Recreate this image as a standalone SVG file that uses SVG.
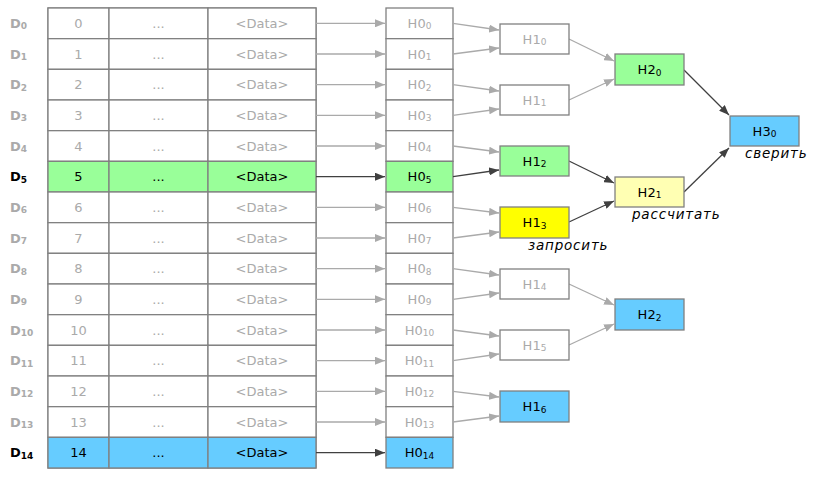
<svg xmlns="http://www.w3.org/2000/svg" width="819" height="478" viewBox="0 0 819 478">
<defs>
<marker id="ag" markerWidth="10" markerHeight="8" refX="10" refY="4" orient="auto" markerUnits="userSpaceOnUse"><path d="M0,0 L10,4 L0,8 z" fill="#aaa"/></marker>
<marker id="ad" markerWidth="10" markerHeight="8" refX="10" refY="4" orient="auto" markerUnits="userSpaceOnUse"><path d="M0,0 L10,4 L0,8 z" fill="#404040"/></marker>
</defs>
<style>
text{font-family:"DejaVu Sans",sans-serif;font-size:13px;text-anchor:middle;dominant-baseline:central}
.c{fill:#fff;stroke:#808080;stroke-width:1.3}
.g{fill:#aaa}.k{fill:#000}
.lab{font-weight:bold;text-anchor:start}
.gl{stroke:#aaa;stroke-width:1.3;fill:none;marker-end:url(#ag)}
.dl{stroke:#404040;stroke-width:1.3;fill:none;marker-end:url(#ad)}
.it{font-style:italic;text-anchor:start;font-size:13.5px;letter-spacing:0.8px}
tspan.s{font-size:9px}
</style>
<g id="table">
<rect class="c" x="48" y="8" width="268" height="460"/>
</g>
<g id="r0"><rect class="c" x="48" y="8" width="61" height="30.67"/><rect class="c" x="109" y="8" width="99" height="30.67"/><rect class="c" x="208" y="8" width="108" height="30.67"/><text class="g" x="78.5" y="23.3">0</text><text class="g" x="158.5" y="23.3">...</text><text class="g" x="262" y="23.3">&lt;Data&gt;</text><text class="g lab" x="10" y="23.3">D<tspan class="s" dy="3">0</tspan></text><rect class="c" x="386" y="8" width="67" height="30.67"/><text class="g" x="419.5" y="23.3">H0<tspan class="s" dy="3">0</tspan></text></g>
<g id="r1"><rect class="c" x="48" y="38.67" width="61" height="30.67"/><rect class="c" x="109" y="38.67" width="99" height="30.67"/><rect class="c" x="208" y="38.67" width="108" height="30.67"/><text class="g" x="78.5" y="54">1</text><text class="g" x="158.5" y="54">...</text><text class="g" x="262" y="54">&lt;Data&gt;</text><text class="g lab" x="10" y="54">D<tspan class="s" dy="3">1</tspan></text><rect class="c" x="386" y="38.67" width="67" height="30.67"/><text class="g" x="419.5" y="54">H0<tspan class="s" dy="3">1</tspan></text></g>
<g id="r2"><rect class="c" x="48" y="69.33" width="61" height="30.67"/><rect class="c" x="109" y="69.33" width="99" height="30.67"/><rect class="c" x="208" y="69.33" width="108" height="30.67"/><text class="g" x="78.5" y="84.7">2</text><text class="g" x="158.5" y="84.7">...</text><text class="g" x="262" y="84.7">&lt;Data&gt;</text><text class="g lab" x="10" y="84.7">D<tspan class="s" dy="3">2</tspan></text><rect class="c" x="386" y="69.33" width="67" height="30.67"/><text class="g" x="419.5" y="84.7">H0<tspan class="s" dy="3">2</tspan></text></g>
<g id="r3"><rect class="c" x="48" y="100" width="61" height="30.67"/><rect class="c" x="109" y="100" width="99" height="30.67"/><rect class="c" x="208" y="100" width="108" height="30.67"/><text class="g" x="78.5" y="115.3">3</text><text class="g" x="158.5" y="115.3">...</text><text class="g" x="262" y="115.3">&lt;Data&gt;</text><text class="g lab" x="10" y="115.3">D<tspan class="s" dy="3">3</tspan></text><rect class="c" x="386" y="100" width="67" height="30.67"/><text class="g" x="419.5" y="115.3">H0<tspan class="s" dy="3">3</tspan></text></g>
<g id="r4"><rect class="c" x="48" y="130.67" width="61" height="30.67"/><rect class="c" x="109" y="130.67" width="99" height="30.67"/><rect class="c" x="208" y="130.67" width="108" height="30.67"/><text class="g" x="78.5" y="146">4</text><text class="g" x="158.5" y="146">...</text><text class="g" x="262" y="146">&lt;Data&gt;</text><text class="g lab" x="10" y="146">D<tspan class="s" dy="3">4</tspan></text><rect class="c" x="386" y="130.67" width="67" height="30.67"/><text class="g" x="419.5" y="146">H0<tspan class="s" dy="3">4</tspan></text></g>
<g id="r5"><rect class="c" style="fill:#99ff99" x="48" y="161.33" width="61" height="30.67"/><rect class="c" style="fill:#99ff99" x="109" y="161.33" width="99" height="30.67"/><rect class="c" style="fill:#99ff99" x="208" y="161.33" width="108" height="30.67"/><text class="k" x="78.5" y="176.7">5</text><text class="k" x="158.5" y="176.7">...</text><text class="k" x="262" y="176.7">&lt;Data&gt;</text><text class="k lab" x="10" y="176.7">D<tspan class="s" dy="3">5</tspan></text><rect class="c" style="fill:#99ff99" x="386" y="161.33" width="67" height="30.67"/><text class="k" x="419.5" y="176.7">H0<tspan class="s" dy="3">5</tspan></text></g>
<g id="r6"><rect class="c" x="48" y="192" width="61" height="30.67"/><rect class="c" x="109" y="192" width="99" height="30.67"/><rect class="c" x="208" y="192" width="108" height="30.67"/><text class="g" x="78.5" y="207.3">6</text><text class="g" x="158.5" y="207.3">...</text><text class="g" x="262" y="207.3">&lt;Data&gt;</text><text class="g lab" x="10" y="207.3">D<tspan class="s" dy="3">6</tspan></text><rect class="c" x="386" y="192" width="67" height="30.67"/><text class="g" x="419.5" y="207.3">H0<tspan class="s" dy="3">6</tspan></text></g>
<g id="r7"><rect class="c" x="48" y="222.67" width="61" height="30.67"/><rect class="c" x="109" y="222.67" width="99" height="30.67"/><rect class="c" x="208" y="222.67" width="108" height="30.67"/><text class="g" x="78.5" y="238">7</text><text class="g" x="158.5" y="238">...</text><text class="g" x="262" y="238">&lt;Data&gt;</text><text class="g lab" x="10" y="238">D<tspan class="s" dy="3">7</tspan></text><rect class="c" x="386" y="222.67" width="67" height="30.67"/><text class="g" x="419.5" y="238">H0<tspan class="s" dy="3">7</tspan></text></g>
<g id="r8"><rect class="c" x="48" y="253.33" width="61" height="30.67"/><rect class="c" x="109" y="253.33" width="99" height="30.67"/><rect class="c" x="208" y="253.33" width="108" height="30.67"/><text class="g" x="78.5" y="268.7">8</text><text class="g" x="158.5" y="268.7">...</text><text class="g" x="262" y="268.7">&lt;Data&gt;</text><text class="g lab" x="10" y="268.7">D<tspan class="s" dy="3">8</tspan></text><rect class="c" x="386" y="253.33" width="67" height="30.67"/><text class="g" x="419.5" y="268.7">H0<tspan class="s" dy="3">8</tspan></text></g>
<g id="r9"><rect class="c" x="48" y="284" width="61" height="30.67"/><rect class="c" x="109" y="284" width="99" height="30.67"/><rect class="c" x="208" y="284" width="108" height="30.67"/><text class="g" x="78.5" y="299.3">9</text><text class="g" x="158.5" y="299.3">...</text><text class="g" x="262" y="299.3">&lt;Data&gt;</text><text class="g lab" x="10" y="299.3">D<tspan class="s" dy="3">9</tspan></text><rect class="c" x="386" y="284" width="67" height="30.67"/><text class="g" x="419.5" y="299.3">H0<tspan class="s" dy="3">9</tspan></text></g>
<g id="r10"><rect class="c" x="48" y="314.67" width="61" height="30.67"/><rect class="c" x="109" y="314.67" width="99" height="30.67"/><rect class="c" x="208" y="314.67" width="108" height="30.67"/><text class="g" x="78.5" y="330">10</text><text class="g" x="158.5" y="330">...</text><text class="g" x="262" y="330">&lt;Data&gt;</text><text class="g lab" x="10" y="330">D<tspan class="s" dy="3">10</tspan></text><rect class="c" x="386" y="314.67" width="67" height="30.67"/><text class="g" x="419.5" y="330">H0<tspan class="s" dy="3">10</tspan></text></g>
<g id="r11"><rect class="c" x="48" y="345.33" width="61" height="30.67"/><rect class="c" x="109" y="345.33" width="99" height="30.67"/><rect class="c" x="208" y="345.33" width="108" height="30.67"/><text class="g" x="78.5" y="360.7">11</text><text class="g" x="158.5" y="360.7">...</text><text class="g" x="262" y="360.7">&lt;Data&gt;</text><text class="g lab" x="10" y="360.7">D<tspan class="s" dy="3">11</tspan></text><rect class="c" x="386" y="345.33" width="67" height="30.67"/><text class="g" x="419.5" y="360.7">H0<tspan class="s" dy="3">11</tspan></text></g>
<g id="r12"><rect class="c" x="48" y="376" width="61" height="30.67"/><rect class="c" x="109" y="376" width="99" height="30.67"/><rect class="c" x="208" y="376" width="108" height="30.67"/><text class="g" x="78.5" y="391.3">12</text><text class="g" x="158.5" y="391.3">...</text><text class="g" x="262" y="391.3">&lt;Data&gt;</text><text class="g lab" x="10" y="391.3">D<tspan class="s" dy="3">12</tspan></text><rect class="c" x="386" y="376" width="67" height="30.67"/><text class="g" x="419.5" y="391.3">H0<tspan class="s" dy="3">12</tspan></text></g>
<g id="r13"><rect class="c" x="48" y="406.67" width="61" height="30.67"/><rect class="c" x="109" y="406.67" width="99" height="30.67"/><rect class="c" x="208" y="406.67" width="108" height="30.67"/><text class="g" x="78.5" y="422">13</text><text class="g" x="158.5" y="422">...</text><text class="g" x="262" y="422">&lt;Data&gt;</text><text class="g lab" x="10" y="422">D<tspan class="s" dy="3">13</tspan></text><rect class="c" x="386" y="406.67" width="67" height="30.67"/><text class="g" x="419.5" y="422">H0<tspan class="s" dy="3">13</tspan></text></g>
<g id="r14"><rect class="c" style="fill:#66ccff" x="48" y="437.33" width="61" height="30.67"/><rect class="c" style="fill:#66ccff" x="109" y="437.33" width="99" height="30.67"/><rect class="c" style="fill:#66ccff" x="208" y="437.33" width="108" height="30.67"/><text class="k" x="78.5" y="452.7">14</text><text class="k" x="158.5" y="452.7">...</text><text class="k" x="262" y="452.7">&lt;Data&gt;</text><text class="k lab" x="10" y="452.7">D<tspan class="s" dy="3">14</tspan></text><rect class="c" style="fill:#66ccff" x="386" y="437.33" width="67" height="30.67"/><text class="k" x="419.5" y="452.7">H0<tspan class="s" dy="3">14</tspan></text></g>
<g id="edges">
<path class="gl" d="M316,23.3H385"/><path class="gl" d="M316,54H385"/><path class="gl" d="M316,84.7H385"/><path class="gl" d="M316,115.3H385"/><path class="gl" d="M316,146H385"/><path class="dl" d="M316,176.7H385"/><path class="gl" d="M316,207.3H385"/><path class="gl" d="M316,238H385"/><path class="gl" d="M316,268.7H385"/><path class="gl" d="M316,299.3H385"/><path class="gl" d="M316,330H385"/><path class="gl" d="M316,360.7H385"/><path class="gl" d="M316,391.3H385"/><path class="gl" d="M316,422H385"/><path class="dl" d="M316,452.7H385"/>
<path class="gl" d="M453,23.3L499,30"/><path class="gl" d="M453,54L499,48"/>
<path class="gl" d="M453,84.7L499,91"/><path class="gl" d="M453,115.3L499,109"/>
<path class="gl" d="M453,146L499,152"/><path class="dl" d="M453,176.7L499,170"/>
<path class="gl" d="M453,207.3L499,213"/><path class="gl" d="M453,238L499,232"/>
<path class="gl" d="M453,268.7L499,275"/><path class="gl" d="M453,299.3L499,293"/>
<path class="gl" d="M453,330L499,336"/><path class="gl" d="M453,360.7L499,354"/>
<path class="gl" d="M453,391.3L499,397"/><path class="gl" d="M453,422L499,416"/>
<path class="gl" d="M569,39L614,61"/><path class="gl" d="M569,100L614,79"/>
<path class="dl" d="M569,161L614,183"/><path class="dl" d="M569,222L614,201"/>
<path class="gl" d="M569,284L614,305"/><path class="gl" d="M569,345L614,324"/>
<path class="dl" d="M684,70L729,115"/><path class="dl" d="M684,192L729,148"/>
</g>
<g id="h1_0"><rect class="c" x="500" y="24" width="69" height="30"/><text class="g" x="534.5" y="39">H1<tspan class="s" dy="3">0</tspan></text></g>
<g id="h1_1"><rect class="c" x="500" y="85" width="69" height="30"/><text class="g" x="534.5" y="100">H1<tspan class="s" dy="3">1</tspan></text></g>
<g id="h1_2"><rect class="c" style="fill:#99ff99" x="500" y="146" width="69" height="30"/><text class="k" x="534.5" y="161">H1<tspan class="s" dy="3">2</tspan></text></g>
<g id="h1_3"><rect class="c" style="fill:#ffff00" x="500" y="207" width="69" height="31"/><text class="k" x="534.5" y="222.5">H1<tspan class="s" dy="3">3</tspan></text><text class="k it" x="528" y="245">запросить</text></g>
<g id="h1_4"><rect class="c" x="500" y="269" width="69" height="30"/><text class="g" x="534.5" y="284">H1<tspan class="s" dy="3">4</tspan></text></g>
<g id="h1_5"><rect class="c" x="500" y="330" width="69" height="30"/><text class="g" x="534.5" y="345">H1<tspan class="s" dy="3">5</tspan></text></g>
<g id="h1_6"><rect class="c" style="fill:#66ccff" x="500" y="391" width="69" height="31"/><text class="k" x="534.5" y="406.5">H1<tspan class="s" dy="3">6</tspan></text></g>
<g id="h2_0"><rect class="c" style="fill:#99ff99" x="615" y="54" width="69" height="31"/><text class="k" x="649.5" y="69.5">H2<tspan class="s" dy="3">0</tspan></text></g>
<g id="h2_1"><rect class="c" style="fill:#ffffb3" x="615" y="177" width="69" height="30"/><text class="k" x="649.5" y="192">H2<tspan class="s" dy="3">1</tspan></text><text class="k it" x="632" y="214">рассчитать</text></g>
<g id="h2_2"><rect class="c" style="fill:#66ccff" x="615" y="299" width="69" height="31"/><text class="k" x="649.5" y="314.5">H2<tspan class="s" dy="3">2</tspan></text></g>
<g id="h3_0"><rect class="c" style="fill:#66ccff" x="730" y="116" width="69" height="30"/><text class="k" x="764.5" y="131">H3<tspan class="s" dy="3">0</tspan></text><text class="k it" x="745" y="153">сверить</text></g>
</svg>
